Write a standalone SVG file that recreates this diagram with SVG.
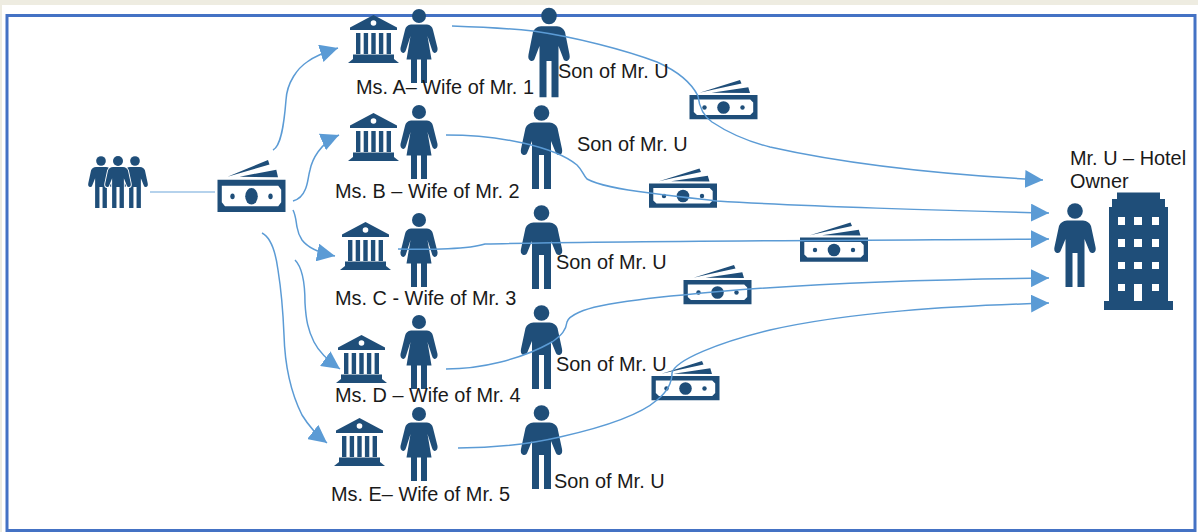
<svg xmlns="http://www.w3.org/2000/svg" xmlns:xlink="http://www.w3.org/1999/xlink" width="1198" height="532" viewBox="0 0 1198 532">
<style>
.i{fill:#1F4E79}
.w{fill:#fff}
text{font-family:"Liberation Sans",Arial,sans-serif;font-size:19.9px;fill:#1a1a1a}
.c{fill:none;stroke:#5B9BD5;stroke-width:1.5}
</style>
<defs>
<marker id="a" markerUnits="userSpaceOnUse" markerWidth="20" markerHeight="18" refX="18" refY="9" orient="auto"><path d="M0,0L18,9L0,18Z" fill="#5B9BD5"/></marker>
<path id="man" d="M-8,9.500H8Q14,10 16,15L20.500,36Q21.500,41 18,42Q15,42.500 14,39L9.500,28V76H2.500V42H-2.500V76H-9.500V28L-14,39Q-15,42.500 -18,42Q-21.500,41 -20.500,36L-16,15Q-14,10 -8,9.500Z"/>
<g id="son" class="i"><circle r="7.800"/><use xlink:href="#man"/></g>
<g id="wife"><circle class="i" r="7"/><path class="i" d="M-8,8.500H8Q13,9 14,14L18.500,32Q19,36 16,37Q14,37.500 13,34L8.500,20L12.500,43.500H8V67H2V43.500H-2V67H-8V43.500H-12.500L-8.500,20L-13,34Q-14,37.500 -16,37Q-19,36 -18.500,32L-14,14Q-13,9 -8,8.500Z"/></g>
<g id="bank"><path class="i" d="M25.500,0L49,12.500V15H2V12.500ZM8,18H12.400V39H8ZM15.700,18H20.100V39H15.700ZM23.300,18H27.700V39H23.300ZM30.900,18H35.300V39H30.900ZM38.600,18H43V39H38.600ZM5,39.500H46V44L51,48H0L5,44Z"/><circle class="w" cx="25.500" cy="8" r="2.800"/></g>
<g id="money"><path class="i" d="M10,12.700L50.500,0L52,3.500L25.500,9.300ZM22,12.700L58.800,7.300L60.500,13Z"/><path class="i" fill-rule="evenodd" d="M0,15H68V39.300H0ZM4.300,19.500V32L7.500,35H60.700L63.700,32V22.500L60.700,19.500Z"/><ellipse class="i" cx="34" cy="27.500" rx="6.300" ry="6.300"/><circle class="i" cx="15" cy="27.500" r="2.200"/><circle class="i" cx="53" cy="27.500" r="2.200"/></g>
</defs>
<rect width="1198" height="532" fill="#EEECE1"/>
<rect x="2" y="5" width="1196" height="527" fill="#fff"/>
<rect x="7" y="15.500" width="1188" height="515" fill="#fff" stroke="#4472C4" stroke-width="3"/>
<g id="investors">
<use xlink:href="#son" transform="translate(101,161) scale(.62)"/>
<use xlink:href="#son" transform="translate(135,161) scale(.62)"/>
<use xlink:href="#man" transform="translate(118,161) scale(.62)" fill="#1F4E79" stroke="#fff" stroke-width="3" paint-order="stroke"/>
<circle class="i" cx="118" cy="161" r="5"/>
</g>
<g id="money-main"><use xlink:href="#money" transform="translate(217.500,160) scale(1,1.320)"/></g>
<g id="bank-a"><use xlink:href="#bank" x="348" y="15"/></g>
<g id="wife-a"><use xlink:href="#wife" x="419" y="16"/></g>
<g id="son-a"><use xlink:href="#son" transform="translate(549,16) scale(1,1.070)"/></g>
<g id="bank-b"><use xlink:href="#bank" x="348" y="113"/></g>
<g id="wife-b"><use xlink:href="#wife" x="419" y="112"/></g>
<g id="son-b"><use xlink:href="#son" x="541.500" y="113"/></g>
<g id="bank-c"><use xlink:href="#bank" x="340" y="222"/></g>
<g id="wife-c"><use xlink:href="#wife" x="419" y="220"/></g>
<g id="son-c"><use xlink:href="#son" x="541.500" y="213"/></g>
<g id="bank-d"><use xlink:href="#bank" x="336" y="335"/></g>
<g id="wife-d"><use xlink:href="#wife" x="419" y="322"/></g>
<g id="son-d"><use xlink:href="#son" x="541.500" y="313"/></g>
<g id="bank-e"><use xlink:href="#bank" x="334" y="418"/></g>
<g id="wife-e"><use xlink:href="#wife" x="419" y="414"/></g>
<g id="son-e"><use xlink:href="#son" x="541.500" y="413"/></g>
<g id="money-a"><use xlink:href="#money" x="689.500" y="80"/></g>
<g id="money-b"><use xlink:href="#money" x="649" y="168.500"/></g>
<g id="money-c"><use xlink:href="#money" x="800" y="222.500"/></g>
<g id="money-d"><use xlink:href="#money" x="683.500" y="265"/></g>
<g id="money-e"><use xlink:href="#money" x="651.500" y="361"/></g>
<g id="owner"><use xlink:href="#son" transform="translate(1075,211)"/></g>
<g id="hotel"><path class="i" fill-rule="evenodd" d="M1117,192.500H1160V199H1165V207H1168V301H1173V310H1104V301H1109V207H1112V199H1117ZM1118,217V225H1125V217ZM1134,217V225H1142V217ZM1152,217V225H1159V217ZM1118,239V247H1125V239ZM1134,239V247H1142V239ZM1152,239V247H1159V239ZM1118,262V269H1125V262ZM1134,262V269H1142V262ZM1152,262V269H1159V262ZM1118,284V291H1125V284ZM1134,284V301H1142V284ZM1152,284V291H1159V284Z"/></g>
<g id="connectors">
<path d="M150,192H215" fill="none" stroke="#9DC3E6" stroke-width="1.500"/>
<path class="c" marker-end="url(#a)" d="M273,150C281,146 284,125 286,100C287,82 298,68 307,62C315,56 325,52 338,48"/>
<path class="c" marker-end="url(#a)" d="M293,201C300,199 303,195 305,190C308,184 308,177 310,170C312,160 320,143 339,135"/>
<path class="c" marker-end="url(#a)" d="M293,210C296,216 296,222 297,227C298,233 300,237 302,240C308,248 320,253 335,256"/>
<path class="c" marker-end="url(#a)" d="M295,260C303,268 305,285 305,303C306,320 308,330 314,342C320,354 330,362 340,369"/>
<path class="c" marker-end="url(#a)" d="M262,233C272,238 276,255 278,270C282,295 283,310 284,335C285,370 292,395 302,415C310,428 318,436 327,443"/>
<path class="c" marker-end="url(#a)" d="M452,26C480,27 505,28 533,31C575,37 625,50 657,62C675,70 690,80 698,96C699,105 702,115 712,122C730,134 750,142 770,147C850,165 950,175 1043,180"/>
<path class="c" marker-end="url(#a)" d="M446,135C480,135 505,139 523,143C545,148 565,155 577,165C583,171 583,175 587,179C600,186 625,190 650,193C680,197 700,199 717,201C800,206 950,211 1049,213"/>
<path class="c" marker-end="url(#a)" d="M398,249C430,250 470,249 485,244C600,241 900,240 1049,239"/>
<path class="c" marker-end="url(#a)" d="M446,369C480,369 520,360 552,342C562,335 566,330 567,322C569,315 585,309 600,306C630,300 660,297 683,295C800,283 950,279 1049,278"/>
<path class="c" marker-end="url(#a)" d="M458,448C500,448 530,444 560,437C600,428 640,415 657,400C667,392 672,382 672,373C675,360 720,342 770,330C850,312 950,306 1049,303"/>
</g>
<g id="labels">
<text x="356" y="94">Ms. A– Wife of Mr. 1</text>
<text x="335" y="198">Ms. B – Wife of Mr. 2</text>
<text x="335" y="305">Ms. C - Wife of Mr. 3</text>
<text x="335" y="402">Ms. D – Wife of Mr. 4</text>
<text x="331" y="501">Ms. E– Wife of Mr. 5</text>
<text x="558" y="77.500">Son of Mr. U</text>
<text x="577" y="150.500">Son of Mr. U</text>
<text x="556" y="268.500">Son of Mr. U</text>
<text x="556" y="371">Son of Mr. U</text>
<text x="554" y="487.500">Son of Mr. U</text>
<text x="1070" y="164.500">Mr. U – Hotel</text>
<text x="1070" y="187.500">Owner</text>
</g>
</svg>
